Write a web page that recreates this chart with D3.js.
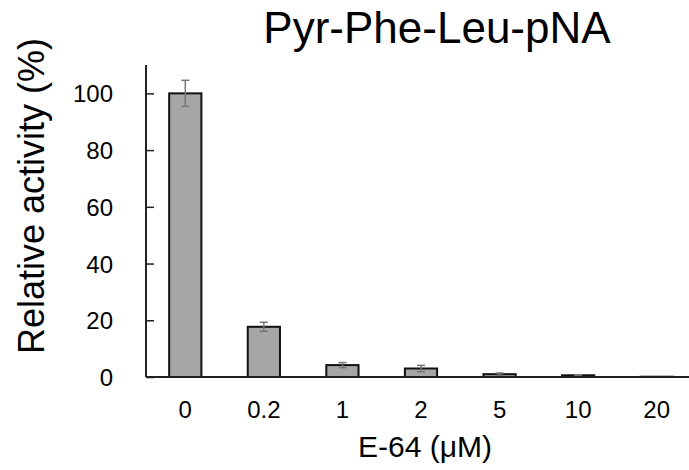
<!DOCTYPE html>
<html lang="en">
<head>
  <meta charset="UTF-8">
  <title>Pyr-Phe-Leu-pNA</title>
  <style>
    body { margin: 0; background: #fff; }
    text { font-family: "Liberation Sans", Arial, sans-serif; fill: #000; }
    .bar { fill: #a6a6a6; stroke: #111; stroke-width: 2; }
    .err { stroke: #777; stroke-width: 1.5; }
  </style>
</head>
<body>
  <div class="warp"></div>
  <script src="https://cdn.jsdelivr.net/npm/d3@7"></script>
  <script>
    var categories = ['0', '0.2', '1', '2', '5', '10', '20'];
    var activity = [100, 17.7, 4.2, 3.0, 1.0, 0.6, 0.1];
    var errors = [4.6, 1.6, 0.9, 1.1, 0.4, 0.2, 0];
    var yTicks = [0, 20, 40, 60, 80, 100];

    var width = 689, height = 470;
    var plotLeft = 146, plotRight = 696, plotTop = 65, plotBottom = 377;

    var svg = d3.select('.warp').append('svg')
      .attr('width', width)
      .attr('height', height);

    var x = d3.scaleBand()
      .domain(categories)
      .range([plotLeft, plotRight])
      .paddingInner(0.59)
      .paddingOuter(0.295);

    var y = d3.scaleLinear()
      .domain([0, 110])
      .range([plotBottom, plotTop]);

    // bars
    svg.append('g').selectAll('rect')
      .data(activity)
      .enter()
      .append('rect')
      .attr('class', 'bar')
      .attr('x', (d, i) => x(categories[i]))
      .attr('y', d => y(d))
      .attr('width', x.bandwidth())
      .attr('height', d => y(0) - y(d));

    // error bars
    var eg = svg.append('g');
    activity.forEach(function (v, i) {
      if (!errors[i]) return;
      var cx = x(categories[i]) + x.bandwidth() / 2;
      var cap = 4;
      eg.append('line').attr('class', 'err')
        .attr('x1', cx).attr('x2', cx)
        .attr('y1', y(v + errors[i])).attr('y2', y(v - errors[i]));
      [v + errors[i], v - errors[i]].forEach(function (e) {
        eg.append('line').attr('class', 'err')
          .attr('x1', cx - cap).attr('x2', cx + cap)
          .attr('y1', y(e)).attr('y2', y(e));
      });
    });

    // y axis, ticks inside
    var yAxis = svg.append('g')
      .attr('transform', 'translate(' + plotLeft + ',0)')
      .call(d3.axisRight(y).tickValues(yTicks).tickSize(8).tickFormat(''));
    yAxis.select('.domain').attr('d', 'M0,' + plotTop + 'V' + plotBottom).attr('stroke', '#222').attr('stroke-width', 2);
    yAxis.selectAll('.tick line').attr('stroke', '#222').attr('stroke-width', 1.5);

    svg.append('g').selectAll('text')
      .data(yTicks)
      .enter()
      .append('text')
      .attr('x', 113)
      .attr('y', d => y(d) + 9)
      .attr('text-anchor', 'end')
      .style('font-size', '24px')
      .text(d => d);

    // x axis
    var xAxis = svg.append('g')
      .attr('transform', 'translate(0,' + plotBottom + ')')
      .call(d3.axisBottom(x).tickSize(0).tickPadding(0).tickFormat(''));
    xAxis.select('.domain').attr('d', 'M' + plotLeft + ',0H' + width).attr('stroke', '#222').attr('stroke-width', 2);

    svg.append('g').selectAll('text')
      .data(categories)
      .enter()
      .append('text')
      .attr('x', d => x(d) + x.bandwidth() / 2)
      .attr('y', 418)
      .attr('text-anchor', 'middle')
      .style('font-size', '24px')
      .text(d => d);

    // titles
    svg.append('text')
      .attr('x', 437)
      .attr('y', 43)
      .attr('text-anchor', 'middle')
      .style('font-size', '44px')
      .text('Pyr-Phe-Leu-pNA');

    svg.append('text')
      .attr('transform', 'translate(44,196) rotate(-90)')
      .attr('text-anchor', 'middle')
      .style('font-size', '36px')
      .text('Relative activity (%)');

    svg.append('text')
      .attr('x', 425)
      .attr('y', 457)
      .attr('text-anchor', 'middle')
      .style('font-size', '30px')
      .text('E-64 (\u03BCM)');
  </script>
</body>
</html>
